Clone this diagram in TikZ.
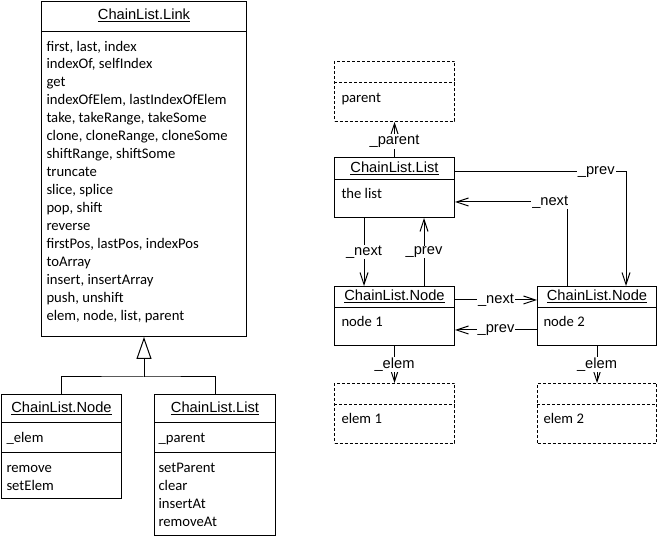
\documentclass[tikz,border=0pt]{standalone}
\usepackage{fontspec}
\setmainfont{Carlito}
\newfontfamily\arialfont{Liberation Sans}
\usetikzlibrary{calc,arrows.meta}

\begin{document}
\begin{tikzpicture}[x=1pt,y=-1pt,line width=1pt]
        \tikzstyle{every node}=[inner sep=0pt]
        \tikzstyle{classbox}=[draw,rectangle,anchor=north west]
        \tikzstyle{objbox}=[classbox,dash pattern=on 3pt off 2pt]
        \tikzstyle{title}=[anchor=base,font=\arialfont\fontsize{14.67}{18}\selectfont]
        % base of a multi-line member node sits on its last line
        \tikzstyle{member}=[anchor=base west,align=left,font=\fontsize{14.67}{18}\selectfont]
        \tikzstyle{arr}=[-{Straight Barb[length=12pt,width=8pt]}]
        \tikzstyle{lbl}=[fill=white,inner sep=1pt,font=\arialfont\fontsize{14.67}{18}\selectfont]
        \useasboundingbox (0,0) rectangle (657,537);

        % class diagram
        \node[classbox,minimum width=205pt,minimum height=335pt] (link) at (41,1) {};
        \draw ($(link.north west)+(0,31)$) -- ($(link.north east)+(0,31)$);
        \node[title] (linkname) at ($(link.north)+(0,19)$) {\underline{ChainList.Link}};
        \node[member] (linkops) at ($(link.north west)+(5,320)$) {first, last, index\\indexOf, selfIndex\\get\\indexOfElem, lastIndexOfElem\\take, takeRange, takeSome\\clone, cloneRange, cloneSome\\shiftRange, shiftSome\\truncate\\slice, splice\\pop, shift\\reverse\\firstPos, lastPos, indexPos\\toArray\\insert, insertArray\\push, unshift\\elem, node, list, parent};

        \node[classbox,minimum width=120pt,minimum height=104pt] (nodeclass) at (1,394) {};
        \draw ($(nodeclass.north west)+(0,29)$) -- ($(nodeclass.north east)+(0,29)$);
        \draw ($(nodeclass.north west)+(0,59)$) -- ($(nodeclass.north east)+(0,59)$);
        \node[title] (nodename) at ($(nodeclass.north)+(0,19)$) {\underline{ChainList.Node}};
        \node[member] (nodeattr) at ($(nodeclass.north west)+(5,49)$) {\_elem};
        \node[member] (nodeops) at ($(nodeclass.north west)+(5,97)$) {remove\\setElem};

        \node[classbox,minimum width=121pt,minimum height=141pt] (listclass) at (154,394) {};
        \draw ($(listclass.north west)+(0,29)$) -- ($(listclass.north east)+(0,29)$);
        \draw ($(listclass.north west)+(0,59)$) -- ($(listclass.north east)+(0,59)$);
        \node[title] (listname) at ($(listclass.north)+(0,19)$) {\underline{ChainList.List}};
        \node[member] (listattr) at ($(listclass.north west)+(4,49)$) {\_parent};
        \node[member] (listops) at ($(listclass.north west)+(4,133)$) {setParent\\clear\\insertAt\\removeAt};

        \coordinate (fork) at ($(link.south)+(0,40)$);
        \draw (nodeclass.north) |- (fork) -| (listclass.north);
        \draw[-{Triangle[open,length=22pt,width=15pt]}] (fork) -- (link.south);

        % object diagram
        \node[objbox,minimum width=120pt,minimum height=60pt] (parentobj) at (334,61) {};
        \draw[dash pattern=on 3pt off 2pt] ($(parentobj.north west)+(0,22)$) -- ($(parentobj.north east)+(0,22)$);
        \node[member] (parenttext) at ($(parentobj.north west)+(7,42)$) {parent};

        \node[classbox,minimum width=120pt,minimum height=60pt] (listobj) at (334,157) {};
        \draw ($(listobj.north west)+(0,23)$) -- ($(listobj.north east)+(0,23)$);
        \node[title] (listobjname) at ($(listobj.north)+(0,15.5)$) {\underline{ChainList.List}};
        \node[member] (listtext) at ($(listobj.north west)+(7,42)$) {the list};

        \node[classbox,minimum width=120pt,minimum height=59pt] (node1) at (334,286) {};
        \draw ($(node1.north west)+(0,22)$) -- ($(node1.north east)+(0,22)$);
        \node[title] (node1name) at ($(node1.north)+(0,14.7)$) {\underline{ChainList.Node}};
        \node[member] (node1text) at ($(node1.north west)+(7,41)$) {node 1};

        \node[classbox,minimum width=119pt,minimum height=59pt] (node2) at (537,286) {};
        \draw ($(node2.north west)+(0,22)$) -- ($(node2.north east)+(0,22)$);
        \node[title] (node2name) at ($(node2.north)+(0,14.7)$) {\underline{ChainList.Node}};
        \node[member] (node2text) at ($(node2.north west)+(6,41)$) {node 2};

        \node[objbox,minimum width=120pt,minimum height=60pt] (elem1) at (334,383) {};
        \draw[dash pattern=on 3pt off 2pt] ($(elem1.north west)+(0,22)$) -- ($(elem1.north east)+(0,22)$);
        \node[member] (elem1text) at ($(elem1.north west)+(7,41)$) {elem 1};

        \node[objbox,minimum width=119pt,minimum height=60pt] (elem2) at (537,383) {};
        \draw[dash pattern=on 3pt off 2pt] ($(elem2.north west)+(0,22)$) -- ($(elem2.north east)+(0,22)$);
        \node[member] (elem2text) at ($(elem2.north west)+(6,41)$) {elem 2};

        \draw[arr] (listobj.north) -- node[lbl,pos=0.45] {\_parent} (parentobj.south);
        \draw[arr] ($(listobj.south west)+(30,0)$) -- node[lbl] {\_next} ($(node1.north west)+(30,0)$);
        \draw[arr] ($(node1.north west)+(90,0)$) -- node[lbl] {\_prev} ($(listobj.south west)+(90,0)$);
        \draw[arr] ($(node1.north east)+(0,14)$) -- node[lbl] {\_next} ($(node2.north west)+(0,14)$);
        \draw[arr] ($(node2.north west)+(0,44)$) -- node[lbl] {\_prev} ($(node1.north east)+(0,44)$);
        \draw[arr] ($(listobj.north east)+(0,15)$) -| node[lbl,pos=0.413] {\_prev} ($(node2.north west)+(89,0)$);
        \draw[arr] ($(node2.north west)+(30,0)$) |- node[lbl,pos=0.575] {\_next} ($(listobj.north east)+(0,45)$);
        \draw[arr] (node1.south) -- node[lbl] {\_elem} (elem1.north);
        \draw[arr] (node2.south) -- node[lbl] {\_elem} (elem2.north);
\end{tikzpicture}
\end{document}
